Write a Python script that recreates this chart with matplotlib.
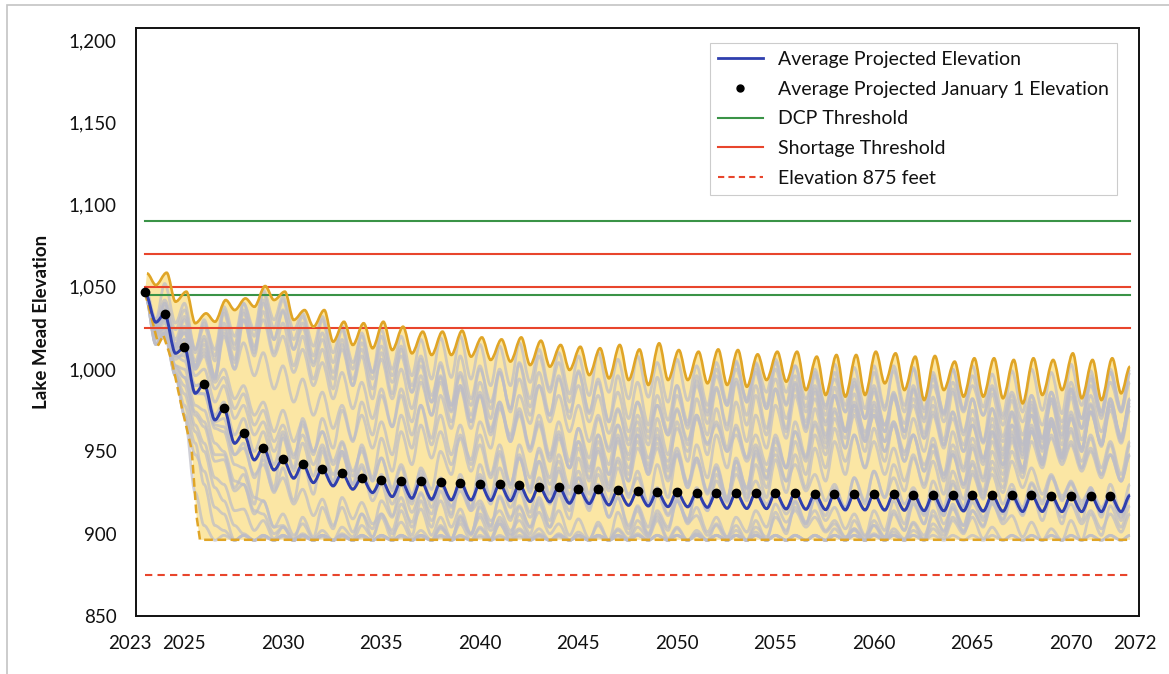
import matplotlib
matplotlib.use("Agg")
import matplotlib.pyplot as plt
from matplotlib.lines import Line2D
from matplotlib.patches import Rectangle, PathPatch
from matplotlib.path import Path
from matplotlib.ticker import FuncFormatter
from matplotlib.transforms import offset_copy

plt.rcParams['font.family'] = ['Lato', 'DejaVu Sans']

years = list(range(2023, 2073))

# average projected elevation: January 1 values and mid-year lows
avg_jan = [1046.7, 1033.5, 1013.3, 991.0, 976.2, 961.0, 952.3, 945.2, 942.4, 939.1,
           936.7, 934.0, 932.6, 932.0, 932.0, 931.2, 931.0, 930.4, 930.0, 929.6,
           928.6, 928.4, 927.4, 927.0, 926.4, 926.0, 925.5, 925.3, 924.9, 924.8,
           924.6, 924.8, 924.6, 924.9, 924.1, 924.1, 924.1, 924.1, 924.1, 923.7,
           923.7, 923.5, 923.5, 923.3, 923.3, 923.3, 923.1, 923.1, 923.1, 923.1]
avg_low = [1028.5, 1009.6, 985.3, 969.1, 954.9, 944.8, 938.7, 933.7, 931.0, 929.0,
           927.0, 925.0, 922.5, 921.5, 920.9, 920.5, 920.5, 920.2, 920.0, 919.5,
           919.3, 918.5, 918.3, 917.4, 917.2, 916.8, 916.4, 916.3, 916.0, 915.4,
           915.3, 915.2, 915.0, 914.8, 914.6, 914.5, 914.4, 914.3, 914.2, 914.0,
           913.9, 913.8, 913.7, 913.6, 913.5, 913.5, 913.4, 913.4, 913.4, 913.4]
avg_end = 923.3

# max of all traces (upper edge of the band)
upper_peak = [1058.2, 1058.6, 1047.1, 1033.9, 1042.0, 1043.0, 1050.5, 1047.1, 1035.9, 1035.9,
              1028.8, 1027.9, 1028.8, 1025.8, 1022.8, 1022.8, 1023.4, 1019.3, 1018.1, 1019.3,
              1017.3, 1014.7, 1013.6, 1012.7, 1014.7, 1012.0, 1015.7, 1011.6, 1010.6, 1012.0,
              1011.6, 1009.0, 1010.6, 1010.6, 1007.6, 1008.6, 1008.6, 1010.6, 1009.6, 1007.6,
              1008.0, 1004.6, 1006.6, 1006.6, 1005.6, 1006.6, 1005.6, 1009.6, 1005.6, 1006.6]
upper_low = [1051.1, 1041.0, 1027.9, 1028.8, 1035.9, 1037.9, 1042.0, 1029.9, 1025.8, 1016.7,
             1014.7, 1012.7, 1011.6, 1009.6, 1008.6, 1008.6, 1007.6, 1005.6, 1004.6, 1002.5,
             1001.5, 999.5, 996.4, 994.4, 993.4, 990.4, 993.4, 993.4, 991.4, 990.4,
             989.3, 993.4, 992.4, 987.3, 984.3, 983.3, 984.3, 991.4, 987.3, 981.2,
             987.3, 983.3, 983.3, 982.3, 979.2, 984.3, 987.3, 982.3, 981.2, 985.3]
upper_end = 1001.5

# min of all traces (lower edge of the band)
lower_x = [2023.0, 2023.68, 2023.93, 2024.35, 2024.86, 2025.37, 2025.62, 2025.79, 2073.0]
lower_y = [1046.7, 1014.7, 1020.7, 1005.6, 977.2, 950.9, 910.3, 896.3, 896.3]

# individual traces (Jan 1 peak, mid-year low)
traces = [
    ([1050, 1052, 1040, 1030, 1036, 1040, 1046, 1042, 1032, 1030,
      1024, 1022, 1024, 1020, 1018, 1019, 1020, 1015, 1014, 1016,
      1012, 1010, 1008, 1010, 1006, 1008, 1004, 1006, 1002, 1004,
      1005, 1003, 1004, 1002, 1000, 1003, 1001, 1002, 999, 1001,
      998, 1000, 1002, 997, 999, 1000, 998, 1003, 999, 1000],
     [1030, 1028, 1012, 1008, 1015, 1020, 1025, 1018, 1008, 1004,
      1000, 998, 1000, 996, 994, 995, 994, 990, 990, 992,
      988, 985, 984, 986, 982, 983, 980, 981, 978, 980,
      980, 978, 979, 977, 976, 978, 976, 977, 974, 976,
      973, 975, 977, 972, 974, 975, 973, 978, 974, 975]),
    ([1046, 1040, 1030, 1020, 1022, 1030, 1035, 1028, 1020, 1012,
      1015, 1008, 1010, 1012, 1006, 1004, 1008, 1002, 1000, 1003,
      998, 996, 999, 994, 996, 992, 995, 990, 993, 989,
      992, 990, 988, 991, 986, 989, 985, 988, 984, 987,
      983, 986, 982, 985, 981, 984, 980, 983, 979, 982],
     [1025, 1015, 1005, 995, 1000, 1008, 1010, 1002, 994, 988,
      990, 982, 985, 986, 980, 978, 982, 976, 974, 977,
      972, 970, 973, 968, 970, 966, 969, 964, 967, 963,
      966, 964, 962, 965, 960, 963, 959, 962, 958, 961,
      957, 960, 956, 959, 955, 958, 954, 957, 953, 956]),
    ([1046, 1035, 1018, 1000, 990, 978, 968, 962, 966, 970,
      975, 980, 984, 988, 992, 995, 998, 1000, 998, 994,
      990, 984, 978, 972, 966, 960, 955, 950, 946, 942,
      940, 942, 945, 948, 952, 956, 960, 964, 968, 970,
      972, 974, 975, 976, 974, 972, 970, 972, 974, 975],
     [1026, 1012, 996, 980, 970, 960, 950, 946, 948, 952,
      956, 960, 965, 968, 972, 975, 978, 980, 976, 972,
      968, 962, 956, 950, 945, 940, 934, 930, 926, 922,
      920, 922, 925, 928, 932, 936, 940, 944, 948, 950,
      952, 954, 955, 956, 954, 952, 950, 952, 954, 955]),
    ([1046, 1030, 1018, 1010, 1000, 990, 980, 975, 968, 962,
      956, 950, 946, 942, 938, 934, 930, 934, 940, 946,
      952, 958, 964, 970, 975, 980, 978, 975, 972, 968,
      964, 960, 958, 962, 966, 970, 975, 980, 985, 988,
      990, 992, 990, 988, 986, 984, 986, 988, 990, 992],
     [1028, 1012, 1000, 992, 982, 972, 962, 956, 950, 944,
      938, 932, 928, 924, 920, 916, 914, 918, 922, 928,
      934, 940, 946, 952, 957, 962, 960, 957, 954, 950,
      946, 942, 940, 944, 948, 952, 957, 962, 967, 970,
      972, 974, 972, 970, 968, 966, 968, 970, 972, 974]),
    ([1046, 1025, 1000, 975, 950, 930, 912, 904, 900] + [899] * 8 + [904, 910, 916,
      922, 928, 934, 940, 946, 952, 958, 964, 970, 966,
      960, 954, 948, 942, 936, 930, 934, 938, 942, 946,
      950, 954, 958, 962, 966, 962, 958, 954, 950, 948],
     [1022, 1002, 978, 955, 932, 914, 900] + [896] * 10 + [897, 900, 904,
      908, 914, 920, 926, 932, 938, 944, 950, 955, 950,
      944, 938, 932, 926, 920, 914, 918, 922, 926, 930,
      934, 938, 942, 946, 950, 946, 942, 938, 934, 932]),
    ([1046, 1022, 985, 950, 920, 900] + [898] * 19 + [904, 912, 920, 928, 936,
      944, 950, 956, 962, 968, 974, 980, 975, 968, 960,
      954, 948, 942, 936, 930, 926, 924, 926, 928, 930],
     [1016, 996, 962, 928, 905] + [896] * 20 + [898, 902, 908, 914, 920,
      928, 934, 940, 946, 952, 958, 962, 956, 950, 942,
      936, 930, 924, 918, 912, 908, 906, 908, 910, 912]),
    ([1046, 1035, 1022, 1008, 995, 985, 975, 966, 960, 954,
      948, 942, 936, 930, 925, 920, 915, 910, 906, 902, 900] + [899] * 18
     + [902, 906, 910, 914, 918, 922, 926, 922, 918, 914, 912],
     [1024, 1014, 1000, 988, 976, 966, 956, 948, 942, 936,
      930, 924, 918, 913, 908, 904, 900, 897] + [896] * 21
     + [897, 899, 902, 905, 908, 911, 914, 910, 906, 903, 901]),
    ([1046, 1022, 972, 905] + [899] * 11
     + [904, 910, 916, 922, 928, 934, 938, 934, 928, 922, 916, 910, 904, 900] + [899] * 6
     + [903, 908, 914, 920, 926, 932, 938, 944, 950, 956, 962, 966, 970, 974, 978],
     [1015, 996, 925] + [896] * 12
     + [897, 900, 904, 908, 913, 918, 920, 916, 910, 905, 900, 897] + [896] * 9
     + [898, 902, 906, 911, 916, 921, 926, 932, 937, 942, 946, 950, 954, 958]),
    ([1046, 1040, 1032, 1026, 1034, 1036, 1030, 1020, 1012, 1004,
      998, 992, 988, 984, 978, 972, 966, 960, 954, 948,
      944, 940, 946, 952, 958, 964, 970, 976, 982, 988,
      994, 998, 1000, 996, 990, 984, 978, 972, 966, 960,
      958, 962, 966, 970, 974, 978, 982, 986, 984, 980],
     [1026, 1018, 1010, 1005, 1012, 1014, 1008, 998, 990, 982,
      976, 970, 965, 960, 954, 948, 942, 936, 930, 925,
      920, 918, 924, 930, 936, 942, 948, 954, 960, 966,
      972, 976, 978, 974, 968, 962, 956, 950, 944, 938,
      936, 940, 944, 948, 952, 956, 960, 964, 962, 958]),
    ([1046, 1022, 972, 938, 912] + [899] * 26
     + [904, 910, 916, 922, 928, 934, 938, 934, 928, 922, 916, 910, 904] + [899] * 6,
     [1015, 997, 948, 916] + [896] * 27
     + [898, 902, 906, 911, 916, 920, 922, 918, 912, 906, 901, 897] + [896] * 7),
    ([1046, 1028, 1010, 992, 980, 970, 962, 958, 955, 952,
      950, 954, 958, 962, 966, 962, 958, 954, 950, 946,
      944, 948, 952, 956, 960, 956, 952, 948, 944, 940,
      944, 948, 952, 956, 960, 964, 960, 956, 952, 948,
      944, 948, 952, 956, 960, 964, 968, 964, 960, 956],
     [1022, 1006, 990, 972, 960, 950, 942, 938, 935, 932,
      930, 934, 938, 942, 946, 942, 938, 934, 930, 926,
      924, 928, 932, 936, 940, 936, 932, 928, 924, 920,
      924, 928, 932, 936, 940, 944, 940, 936, 932, 928,
      924, 928, 932, 936, 940, 944, 948, 944, 940, 936]),
    ([1046, 1038, 1026, 1015, 1025, 1030, 1040, 1035, 1025, 1018,
      1012, 1016, 1020, 1014, 1008, 1002, 996, 992, 998, 1004,
      1008, 1004, 998, 992, 986, 980, 984, 990, 996, 1000,
      1004, 1000, 994, 988, 982, 976, 972, 978, 984, 990,
      996, 1000, 996, 990, 984, 980, 986, 992, 996, 998],
     [1024, 1014, 1002, 994, 1004, 1010, 1018, 1012, 1002, 994,
      990, 994, 996, 990, 984, 978, 972, 970, 976, 982,
      986, 980, 974, 968, 962, 958, 962, 968, 974, 978,
      980, 976, 970, 964, 958, 952, 950, 956, 962, 968,
      974, 976, 972, 966, 960, 958, 964, 970, 974, 976]),
    ([1046, 1024, 995, 965, 945, 930, 920, 912, 906, 902,
      900, 905, 912, 918, 924, 930, 926, 920, 914, 908,
      903, 900, 899, 899, 903, 908, 914, 920, 926, 932,
      936, 932, 926, 920, 914, 908, 903, 900, 899, 899,
      903, 908, 914, 920, 926, 930, 934, 930, 926, 922],
     [1020, 1000, 972, 944, 926, 912, 904, 899, 897, 896,
      896, 898, 902, 907, 912, 917, 914, 908, 902, 898,
      896, 896, 896, 896, 897, 900, 904, 909, 914, 919,
      922, 918, 912, 907, 902, 898, 896, 896, 896, 896,
      897, 900, 904, 909, 914, 918, 921, 918, 914, 910]),
    ([1046, 1030, 1008, 985, 962, 940, 920, 905, 899, 899,
      904, 912, 920, 930, 940, 950, 960, 968, 976, 984,
      990, 994, 990, 984, 976, 968, 960, 952, 946, 940,
      946, 952, 960, 968, 976, 984, 992, 998, 1002, 1000,
      994, 988, 982, 976, 972, 976, 982, 988, 994, 998],
     [1024, 1008, 986, 964, 942, 922, 904, 897, 896, 896,
      898, 903, 910, 918, 927, 936, 945, 952, 960, 967,
      972, 974, 968, 961, 954, 946, 938, 931, 925, 921,
      927, 933, 940, 947, 955, 962, 970, 975, 978, 974,
      968, 962, 956, 951, 948, 952, 958, 964, 970, 974]),
    ([1046, 1020, 978, 930, 902] + [899] * 10 + [903, 908, 912, 908, 903] + [899] * 8
     + [902, 906, 910, 914, 918, 914, 910, 906, 902] + [899] * 13,
     [1015, 996, 955, 905, 896] + [896] * 10 + [897, 900, 902, 899, 897] + [896] * 8
     + [896, 898, 901, 904, 907, 904, 901, 898, 896] + [896] * 13),
    ([1046, 1036, 1024, 1018, 1028, 1034, 1042, 1036, 1028, 1022,
      1018, 1012, 1006, 1000, 996, 992, 988, 984, 980, 976,
      972, 968, 964, 960, 956, 960, 964, 968, 972, 976,
      980, 984, 988, 992, 996, 998, 994, 990, 986, 982,
      978, 974, 970, 966, 962, 966, 970, 974, 978, 982],
     [1022, 1014, 1002, 996, 1006, 1012, 1018, 1012, 1004, 998,
      994, 988, 982, 976, 972, 968, 964, 960, 956, 952,
      948, 944, 940, 936, 932, 936, 940, 944, 948, 952,
      956, 960, 964, 968, 972, 974, 970, 966, 962, 958,
      954, 950, 946, 942, 938, 942, 946, 950, 954, 958]),
    ([1046, 1030, 1005, 985, 965, 952, 942, 934, 927, 921,
      916, 912, 910, 914, 920, 926, 932, 936, 932, 926,
      920, 914, 909, 905, 902, 900] + [899] * 12 + [903, 907,
      911, 915, 919, 923, 927, 931, 935, 931, 927, 924],
     [1024, 1008, 985, 966, 948, 936, 926, 918, 911, 905,
      901, 898, 897, 899, 904, 910, 916, 920, 916, 910,
      904, 899, 897] + [896] * 15 + [897, 899,
      902, 905, 908, 912, 916, 920, 923, 920, 916, 913]),
    ([1046, 1025, 995, 968, 948, 936, 948, 960, 970, 962,
      950, 940, 930, 922, 915, 910, 906, 903, 906, 912,
      918, 924, 930, 936, 940, 934, 928, 922, 916, 910,
      905, 901, 899, 899, 899, 899, 899, 905, 912, 918,
      924, 930, 936, 940, 944, 940, 936, 932, 928, 924],
     [1020, 1002, 974, 948, 928, 918, 928, 940, 950, 942,
      930, 920, 911, 904, 899, 897, 896, 896, 897, 900,
      904, 909, 914, 920, 924, 918, 912, 906, 901, 898,
      896, 896, 896, 896, 896, 896, 896, 898, 902, 906,
      911, 916, 921, 925, 928, 924, 920, 916, 912, 908]),
    ([1046, 1022, 990, 955, 930, 915, 908, 904, 910, 916,
      922, 919, 912, 907, 902, 905, 911, 918, 923, 917,
      913, 906, 901, 907, 913, 917, 924, 920, 911, 905,
      902, 908, 913, 919, 921, 916, 912, 905, 901, 906,
      914, 918, 923, 919, 911, 907, 903, 908, 912, 917],
     [1018, 998, 966, 934, 914, 902, 897, 896, 898, 903,
      909, 906, 900, 897, 896, 896, 899, 905, 910, 904,
      900, 896, 896, 896, 900, 904, 911, 907, 899, 896,
      896, 896, 900, 906, 908, 903, 899, 896, 896, 896,
      901, 905, 910, 906, 898, 896, 896, 896, 899, 904]),
    ([1046, 1032, 1012, 990, 970, 955, 945, 940, 944, 950,
      955, 952, 946, 940, 936, 932, 936, 942, 948, 954,
      950, 944, 938, 930, 922, 914, 908, 903, 900, 899,
      899, 899, 899, 899, 899, 899, 903, 908, 914, 920,
      926, 932, 938, 944, 950, 956, 960, 956, 952, 948],
     [1024, 1010, 990, 968, 948, 934, 925, 920, 924, 930,
      935, 932, 926, 920, 916, 912, 916, 922, 928, 934,
      930, 924, 918, 910, 903, 898, 896, 896, 896, 896,
      896, 896, 896, 896, 896, 896, 896, 898, 902, 906,
      911, 916, 922, 928, 934, 940, 944, 940, 936, 932]),
    ([1046, 1042, 1036, 1028, 1038, 1040, 1048, 1044, 1034, 1032,
      1026, 1020, 1014, 1008, 1002, 996, 990, 984, 978, 972,
      966, 960, 956, 960, 966, 972, 978, 984, 990, 996,
      1000, 1004, 1006, 1002, 998, 994, 990, 986, 982, 978,
      974, 970, 966, 962, 958, 962, 966, 970, 974, 978],
     [1030, 1024, 1012, 1012, 1020, 1024, 1030, 1024, 1014, 1010,
      1004, 998, 992, 986, 980, 974, 968, 962, 956, 950,
      944, 940, 938, 942, 948, 954, 960, 966, 972, 978,
      982, 986, 986, 982, 978, 974, 970, 966, 962, 958,
      954, 950, 946, 942, 940, 944, 948, 952, 956, 960]),
    ([1046, 1036, 1022, 1012, 1020, 1016, 1010, 1002, 994, 986,
      978, 972, 968, 972, 978, 984, 990, 986, 980, 974,
      968, 962, 956, 950, 944, 938, 942, 948, 954, 960,
      966, 972, 978, 984, 988, 984, 978, 972, 966, 960,
      954, 950, 954, 960, 966, 972, 968, 962, 958, 954],
     [1026, 1014, 1002, 994, 1000, 996, 988, 980, 972, 964,
      957, 952, 948, 952, 958, 964, 968, 964, 958, 952,
      946, 940, 934, 928, 922, 918, 922, 928, 934, 940,
      946, 952, 958, 962, 966, 962, 956, 950, 944, 938,
      932, 930, 934, 940, 946, 950, 946, 940, 936, 932]),
]

dcp_levels = [1090, 1045]
shortage_levels = [1070, 1050, 1025]
elev_875 = 875

y_ticks = [850, 900, 950, 1000, 1050, 1100, 1150, 1200]
x_ticks = [2025, 2030, 2035, 2040, 2045, 2050, 2055, 2060, 2065, 2070]

BLUE = '#2f3fae'
GREEN = '#3a9347'
RED = '#e8452c'
GOLD = '#e0a526'
FILL = '#fbe6a4'
GRAY = '#bdbdc7'
TXT = '#111111'


def wave_points(peaks, lows, peak_off=0.0, low_off=0.55, end=None):
    xs, ys = [], []
    for yr, p, lo in zip(years, peaks, lows):
        xs += [yr + peak_off, yr + low_off]
        ys += [p, lo]
    if end is not None:
        xs.append(years[-1] + 1)
        ys.append(end)
    return xs, ys


def smooth_verts(xs, ys):
    # cubic segments with flat tangents at every peak and low
    verts = [(xs[0], ys[0])]
    codes = [Path.MOVETO]
    for i in range(1, len(xs)):
        d = (xs[i] - xs[i - 1]) / 3
        verts += [(xs[i - 1] + d, ys[i - 1]), (xs[i] - d, ys[i]), (xs[i], ys[i])]
        codes += [Path.CURVE4] * 3
    return verts, codes


def curve(ax, xs, ys, **kw):
    v, c = smooth_verts(xs, ys)
    ax.add_patch(PathPatch(Path(v, c), fill=False, **kw))


fig = plt.figure(figsize=(11.69, 6.74), dpi=100)
fig.patches.append(Rectangle((7 / 1169, -0.1), 1.2, 1 - 5 / 674 + 0.1, transform=fig.transFigure,
                             fill=False, edgecolor='#c4c4c4', lw=1.2))
ax = fig.add_axes([136 / 1169, 1 - 616 / 674, 1003 / 1169, 588 / 674])

# band between min and max
ux, uy = wave_points(upper_peak, upper_low, peak_off=0.1, end=upper_end)
v, c = smooth_verts(ux, uy)
v += list(zip(lower_x[::-1], lower_y[::-1])) + [(0, 0)]
c += [Path.LINETO] * len(lower_x) + [Path.CLOSEPOLY]
ax.add_patch(PathPatch(Path(v, c), facecolor=FILL, lw=0, zorder=1))

for peaks, lows in traces:
    tx, ty = wave_points(peaks, lows, end=peaks[-1])
    curve(ax, tx, ty, edgecolor=GRAY, lw=2.0, alpha=0.72, zorder=2)

for lvl in dcp_levels:
    ax.plot([2023, 2073], [lvl, lvl], color=GREEN, lw=1.5, zorder=3)
for lvl in shortage_levels:
    ax.plot([2023, 2073], [lvl, lvl], color=RED, lw=1.5, zorder=3)
ax.plot([2023, 2073], [elev_875, elev_875], color=RED, lw=1.5, ls=(0, (3.5, 2.5)), zorder=3)

curve(ax, ux, uy, edgecolor=GOLD, lw=1.9, zorder=4)
ax.plot(lower_x, lower_y, color=GOLD, lw=1.8, ls=(0, (3.5, 1.8)), zorder=4)

bx, by = wave_points(avg_jan, avg_low, end=avg_end)
curve(ax, bx, by, edgecolor=BLUE, lw=2.1, zorder=5)
ax.plot(years, avg_jan, ls='none', marker='o', ms=6, color='black', zorder=6)

ax.set_xlim(2022.543, 2073.457)
ax.set_ylim(850, 1207.3)
ax.set_yticks(y_ticks)
ax.yaxis.set_major_formatter(FuncFormatter(lambda val, pos: f'{val:,.0f}'))
ax.set_xticks(x_ticks)
ax.set_xticklabels([str(x) for x in x_ticks])
ax.tick_params(axis='both', length=0, labelsize=13.5, colors=TXT)
ax.tick_params(axis='y', pad=14)
ax.tick_params(axis='x', pad=14)

# end labels that sit off the regular grid
lab_tr = offset_copy(ax.get_xaxis_transform(), fig=fig, y=-14, units='points')
ax.text(2022.24, 0, '2023', transform=lab_tr, ha='center', va='top', fontsize=13.5,
        color=TXT, clip_on=False)
ax.text(2073.25, 0, '2072', transform=lab_tr, ha='center', va='top', fontsize=13.5,
        color=TXT, clip_on=False)

for s in ax.spines.values():
    s.set_color('#111111')
    s.set_linewidth(1.4)

ax.set_ylabel('Lake Mead Elevation', fontsize=13.5, fontweight='bold', color=TXT)
ax.yaxis.set_label_coords(-0.0857, 0.5)

handles = [
    Line2D([], [], color=BLUE, lw=2),
    Line2D([], [], ls='none', marker='o', ms=5, color='black'),
    Line2D([], [], color=GREEN, lw=1.5),
    Line2D([], [], color=RED, lw=1.5),
    Line2D([], [], color=RED, lw=1.5, ls=(0, (3, 2))),
]
labels = ['Average Projected Elevation', 'Average Projected January 1 Elevation',
          'DCP Threshold', 'Shortage Threshold', 'Elevation 875 feet']
leg = ax.legend(handles, labels, loc='upper right', bbox_to_anchor=(1117 / 1169, 1 - 43 / 674),
                bbox_transform=fig.transFigure, fontsize=14, frameon=True, fancybox=False,
                edgecolor='#c0c0c0', handlelength=2.3, handletextpad=0.8, labelspacing=0.66,
                borderpad=0.4, borderaxespad=0)
leg.get_frame().set_linewidth(0.8)
for t in leg.get_texts():
    t.set_color(TXT)

fig.savefig('out.png', dpi=100)
